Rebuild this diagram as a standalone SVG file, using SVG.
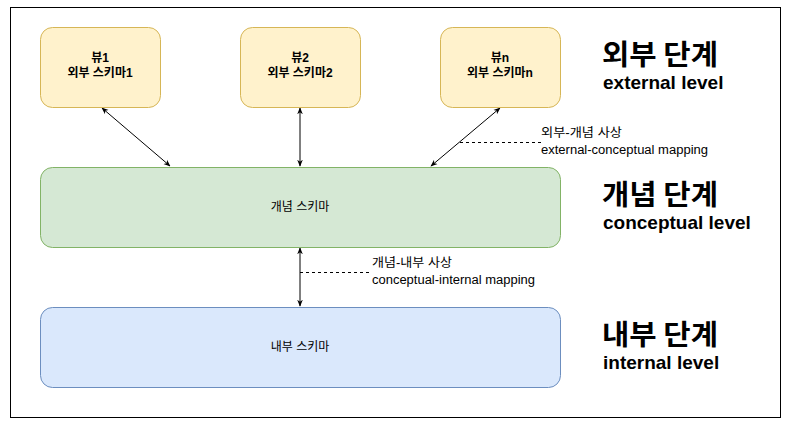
<svg xmlns="http://www.w3.org/2000/svg" width="793" height="428" viewBox="0 0 793 428">
<defs>
<marker id="ah" viewBox="0 0 10 10" refX="9" refY="5" markerWidth="7" markerHeight="7" orient="auto-start-reverse" markerUnits="userSpaceOnUse">
<path d="M0,1 L10,5 L0,9 L3,5 Z" fill="#000"/>
</marker>
</defs>
<style>
.ext{fill:#fff2cc;stroke:#d6b656;stroke-width:1}
.con{fill:#d5e8d4;stroke:#82b366;stroke-width:1}
.int{fill:#dae8fc;stroke:#6c8ebf;stroke-width:1}
.bt{font-family:"Liberation Sans","Noto Sans CJK KR",sans-serif;font-size:12px;font-weight:bold;fill:#000;text-anchor:middle}
.nt{font-family:"Liberation Sans","Noto Sans CJK KR",sans-serif;font-size:12px;fill:#000;text-anchor:middle}
.lt{font-family:"Liberation Sans","Noto Sans CJK KR",sans-serif;font-size:12px;fill:#000}
.big{font-family:"Noto Sans CJK KR","Liberation Sans",sans-serif;font-size:28px;font-weight:bold;fill:#000}
.en{font-family:"Liberation Sans","Noto Sans CJK KR",sans-serif;font-size:19px;font-weight:bold;fill:#000}
.c{stroke:#000;stroke-width:1;fill:none}
.d{stroke:#000;stroke-width:1;fill:none;stroke-dasharray:3 3}
</style>
<rect x="10.5" y="7.5" width="770" height="410" fill="#fff" stroke="#000" stroke-width="1"/>
<g id="connectors">
<line class="c" x1="102" y1="108" x2="170" y2="166" marker-start="url(#ah)" marker-end="url(#ah)"/>
<line class="c" x1="300" y1="108" x2="300" y2="166" marker-start="url(#ah)" marker-end="url(#ah)"/>
<line class="c" x1="500" y1="108" x2="431" y2="166" marker-start="url(#ah)" marker-end="url(#ah)"/>
<line class="c" x1="300" y1="248" x2="300" y2="306" marker-start="url(#ah)" marker-end="url(#ah)"/>
<line class="d" x1="460" y1="142.5" x2="541" y2="142.5"/>
<line class="d" x1="300" y1="272.5" x2="371" y2="272.5"/>
</g>
<g id="view1">
<rect class="ext" x="40.5" y="27.5" width="120" height="80" rx="12"/>
<text class="bt" x="100" y="62">뷰1</text>
<text class="bt" x="100" y="77">외부 스키마1</text>
</g>
<g id="view2">
<rect class="ext" x="240.5" y="27.5" width="120" height="80" rx="12"/>
<text class="bt" x="300" y="62">뷰2</text>
<text class="bt" x="300" y="77">외부 스키마2</text>
</g>
<g id="viewn">
<rect class="ext" x="440.5" y="27.5" width="120" height="80" rx="12"/>
<text class="bt" x="500" y="62">뷰n</text>
<text class="bt" x="500" y="77">외부 스키마n</text>
</g>
<g id="conceptual">
<rect class="con" x="40.5" y="167.5" width="520" height="80" rx="12"/>
<text class="nt" x="300" y="211">개념 스키마</text>
</g>
<g id="internal">
<rect class="int" x="40.5" y="307.5" width="520" height="80" rx="12"/>
<text class="nt" x="300" y="351">내부 스키마</text>
</g>
<g id="label-ec">
<text class="lt" x="541" y="137" textLength="81" lengthAdjust="spacingAndGlyphs">외부-개념 사상</text>
<text class="lt" x="541" y="154" textLength="167" lengthAdjust="spacingAndGlyphs">external-conceptual mapping</text>
</g>
<g id="label-ci">
<text class="lt" x="372" y="267" textLength="80" lengthAdjust="spacingAndGlyphs">개념-내부 사상</text>
<text class="lt" x="372" y="284" textLength="163" lengthAdjust="spacingAndGlyphs">conceptual-internal mapping</text>
</g>
<g id="level-ext">
<text class="big" x="602" y="65" textLength="116" lengthAdjust="spacingAndGlyphs">외부 단계</text>
<text class="en" x="603" y="89">external level</text>
</g>
<g id="level-con">
<text class="big" x="602" y="205" textLength="116" lengthAdjust="spacingAndGlyphs">개념 단계</text>
<text class="en" x="603" y="229">conceptual level</text>
</g>
<g id="level-int">
<text class="big" x="602" y="345" textLength="116" lengthAdjust="spacingAndGlyphs">내부 단계</text>
<text class="en" x="603" y="369">internal level</text>
</g>
</svg>
